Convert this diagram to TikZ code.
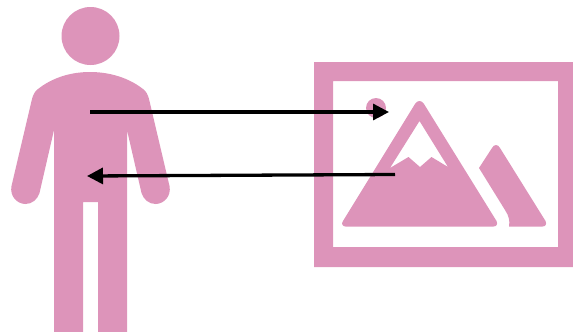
\documentclass[tikz,border=0pt]{standalone}
\usetikzlibrary{arrows.meta}
\definecolor{pinkfill}{HTML}{DD94BA}
\tikzset{
  shapefill/.style={fill=pinkfill,draw=none},
  link/.style={draw=black,line width=3.3pt,-{Triangle[length=16pt,width=16pt]}}
}
\begin{document}
\begin{tikzpicture}[x=1pt,y=-1pt]
\useasboundingbox (0,0) rectangle (573,332);
% person
\fill[shapefill] (90.5,36) circle (29);
\fill[shapefill] (90,72) .. controls (70,72) and (52,78) .. (38,89)
  .. controls (35,91) and (33,95) .. (32,99)
  -- (11.5,186) .. controls (9.5,196) and (17,204) .. (25.5,204)
  .. controls (32,204) and (37.5,199.5) .. (39.5,193)
  -- (54,130) -- (54,332) -- (83,332) -- (83,202) -- (98,202) -- (98,332) -- (127,332) -- (127,130)
  -- (141.5,193) .. controls (143.5,199.5) and (149,204) .. (155.5,204)
  .. controls (164,204) and (171.5,196) .. (169.5,186)
  -- (149,99) .. controls (148,95) and (146,91) .. (143,89)
  .. controls (129,78) and (110,72) .. (90,72) -- cycle;
% picture frame
\fill[shapefill,even odd rule] (314,62) rectangle (573,267) (333,81) rectangle (558,247);
\fill[shapefill] (376,108) circle (10);
% big mountain
\fill[shapefill,even odd rule] (415,104) .. controls (417.5,100) and (421.5,100) .. (424,104)
  -- (496.5,221) .. controls (498,224) and (496.5,226.5) .. (493.5,226.5)
  -- (345.5,226.5) .. controls (342.5,226.5) and (341,224) .. (343,221) -- cycle
  (419.5,121) -- (390,168) -- (408.5,157) -- (420,167) -- (431.5,157) -- (448,167) -- cycle;
% small mountain
\fill[shapefill] (479,168) -- (492,148) .. controls (494,144) and (498,144) .. (500,148)
  -- (545.5,221) .. controls (547,224) and (545.5,226.5) .. (542.5,226.5)
  -- (509,226.5) .. controls (510,221) and (509,216) .. (505,210) -- cycle;
% arrows
\coordinate (a1) at (90,112);
\coordinate (b1) at (389,112);
\coordinate (a2) at (395,174.5);
\coordinate (b2) at (87,176);
\draw[link] (a1) -- (b1);
\draw[link] (a2) -- (b2);
\end{tikzpicture}
\end{document}
